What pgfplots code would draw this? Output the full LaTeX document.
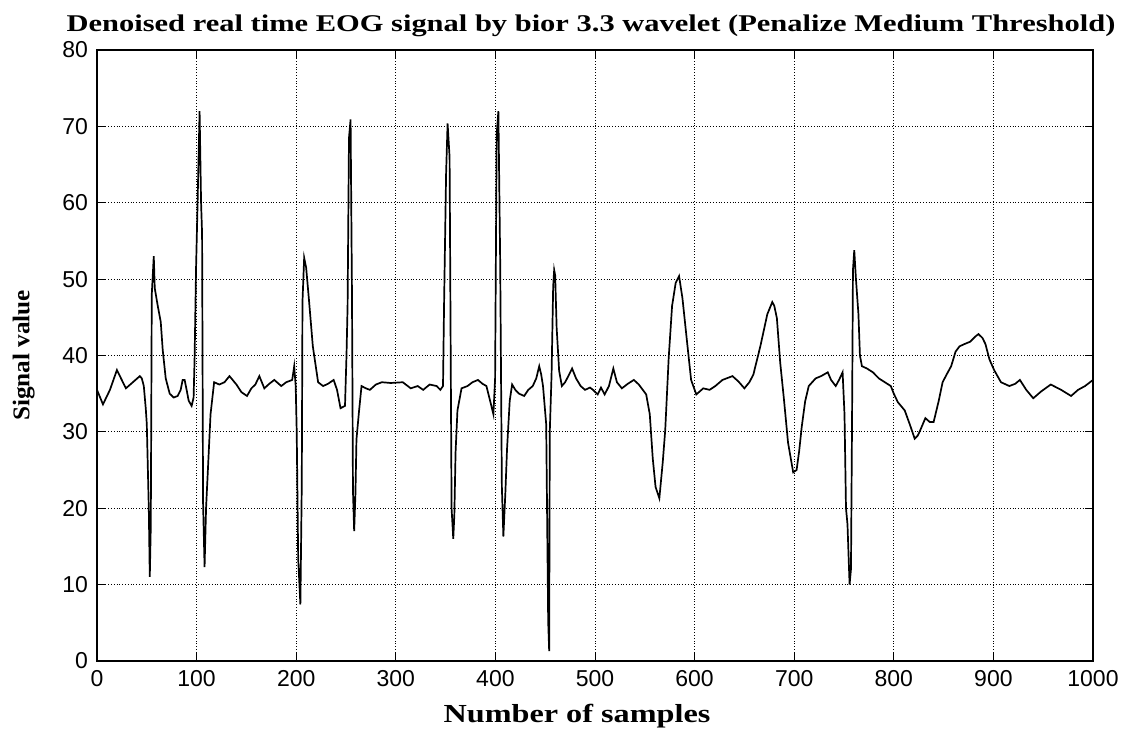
\documentclass[border=0pt]{standalone}
\usepackage{fontspec}
\setmainfont{Liberation Serif}
\newfontfamily\ticksfont{Liberation Sans}
\usepackage{pgfplots}
\pgfplotsset{compat=1.18}
\begin{document}
\begin{tikzpicture}
\path[use as bounding box] (-48.5pt,-35pt) rectangle (517pt,330.5pt);
\begin{axis}[
  at={(0pt,0pt)}, anchor=south west,
  width=498pt, height=305.5pt, scale only axis,
  xmin=0, xmax=1000, ymin=0, ymax=80,
  xtick={0,100,...,1000}, ytick={0,10,...,80},
  grid=major,
  major grid style={black, densely dotted, line width=0.5pt},
  tick align=inside, major tick length=4pt,
  tick style={black, line width=0.5pt},
  axis line style={black, line width=0.6pt},
  ticklabel style={font=\ticksfont\fontsize{11.5}{12}\selectfont},
  /pgf/number format/assume math mode=true,
  /pgf/number format/1000 sep={},
  xticklabel style={yshift=-1pt},
  yticklabel style={xshift=-1pt},
  title={\scalebox{1.27}[1]{\bfseries Denoised real time EOG signal by bior 3.3 wavelet (Penalize Medium Threshold)}},
  title style={font=\fontsize{12}{13}\selectfont, at={(0.5,1)}, anchor=south, yshift=-3pt, xshift=-2pt},
  xlabel={\scalebox{1.24}[1]{\bfseries Number of samples}},
  xlabel style={font=\fontsize{13}{14}\selectfont, yshift=-2pt, xshift=-9pt},
  ylabel={\scalebox{1.05}[1]{\bfseries Signal value}},
  ylabel style={font=\fontsize{12}{13}\selectfont, yshift=7pt},
]
\addplot[black, line width=0.85pt, mark=none, sharp plot] coordinates {
(0,35.5) (6,33.6) (13,35.5) (20,38.1) (29,35.7) (36,36.5) (43,37.3) (45,37.0) (47,36.0) (49,33) (50,31) (52,20) (53,11) (54,17.6) (55,48) (57,53) (58,48.8) (61,46.5) (64,44.4) (66,40.7) (69,37) (73,35) (77,34.5) (81,34.7) (84,35.5) (86,36.8) (88,36.8) (90,35.5) (92,34.1) (95,33.4) (97,34.5) (98,39.7) (99.5,51.7) (101,60) (103,72) (104.5,60) (105.5,56) (106.5,20.7) (108,12.3) (109.5,20) (111.7,26) (114,32.3) (117.6,36.5) (122.8,36.2) (128,36.5) (133,37.3) (140,36.2) (145,35.2) (150.6,34.7) (155,35.7) (159,36.2) (163,37.3) (168,35.7) (173,36.3) (178,36.8) (185,36) (190,36.5) (196,36.8) (198,38.6) (199.5,36) (200.5,30.2) (202,13.4) (204.2,7.4) (205.6,23.1) (206.3,47) (208,52.8) (210,51.5) (213,47) (216.7,41.2) (222,36.5) (227,36) (232,36.3) (237.6,36.8) (241,35.5) (244.5,33.1) (249,33.4) (250.5,40) (251.6,46.5) (253,68.5) (254.6,70.9) (256,48) (257,22.3) (258.2,17) (259.5,22) (260.5,29) (263,32.6) (265.6,36) (270,35.7) (274,35.5) (280,36.2) (286,36.5) (295,36.4) (307,36.5) (315,35.7) (322,36) (327.5,35.5) (334,36.2) (341,36) (344.7,35.5) (347.4,36) (348.5,47) (350.5,63.8) (352,70.4) (354,66) (356,20) (357.7,16) (358.8,19.2) (360,27.3) (361.9,32.8) (366,35.7) (372,36) (377,36.5) (382.5,36.8) (387,36.3) (391,36) (395,33.9) (398,32.3) (399.7,37) (401.3,69) (403,72) (404.8,52.3) (406.5,22.8) (408,16.3) (410,22) (411.7,27.8) (414.4,34.1) (416.8,36.2) (420,35.5) (423.7,35) (428.9,34.7) (433,35.5) (437.5,36) (441,37) (444,38.6) (446,37.5) (447.8,36) (451,31) (453,5.2) (454,1.3) (454.6,30) (456.4,37.5) (458,49) (459,51.2) (460,50.5) (461.5,43.6) (464,38) (466.7,36) (470,36.5) (474,37.5) (477,38.3) (481,37) (485.6,36) (490,35.5) (495,35.8) (498,35.5) (502.7,34.9) (506,35.8) (509.7,34.9) (514,36) (518.4,38.3) (522,36.5) (527,35.7) (533,36.3) (539,36.8) (544,36.2) (548,35.5) (551.4,34.9) (555,32.3) (558,26.5) (560.8,22.8) (564.6,21.3) (568,26) (570.5,30.2) (574,39.7) (577.4,46.5) (581,49.5) (584.4,50.4) (587.8,47.5) (592.4,41.8) (596.5,36.8) (601.7,34.9) (608.7,35.7) (615,35.5) (620.8,36) (628,36.8) (638,37.3) (644,36.6) (650,35.7) (655,36.5) (659,37.5) (666,41.2) (673,45.4) (678,47) (680,46.5) (682.6,44.9) (686,39) (689.6,34.4) (693.8,28.6) (699,24.7) (702.4,25) (705,27.5) (707.6,30.7) (711,34) (714.6,36) (721.5,37) (727,37.3) (733.7,37.8) (737,36.8) (741.7,36) (745,36.8) (748.6,37.8) (750.5,32.3) (752,20) (753.5,17.9) (755.6,10) (757,12) (758,30) (759,51.2) (760.3,53.8) (762,50) (764.5,45.4) (766,40) (768,38.6) (773,38.3) (779,37.8) (785,37) (791,36.5) (797,36) (800,35) (804,33.9) (811,32.8) (816,31) (821,29.1) (824,29.5) (826.5,30.2) (831.7,31.8) (836,31.3) (840,31.3) (845,34) (849,36.5) (853,37.5) (857.6,38.6) (862,40.5) (866,41.2) (871,41.5) (876.6,41.8) (882,42.5) (885,42.8) (889,42.3) (892,41.5) (896,39.5) (900.7,38.1) (907.6,36.5) (916,36) (922,36.3) (926.6,36.8) (933,35.5) (940,34.4) (948,35.3) (957.6,36.2) (968,35.5) (978,34.7) (985,35.5) (992,36) (1000,36.8)
};
\end{axis}
\end{tikzpicture}
\end{document}
